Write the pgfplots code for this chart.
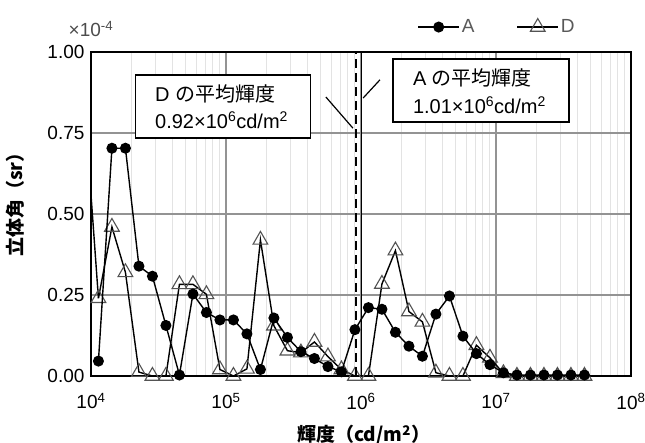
\documentclass[border=0pt]{standalone}
\usepackage{pgfplots}
\usepackage{pgfplotstable}
\pgfplotsset{compat=1.18}
\usepackage{fontspec}
\setmainfont{Liberation Sans}
\newfontfamily\cjk{Noto Sans CJK JP}

\pgfplotstableread{
x A D
1.135e4 0.046 0.240
1.429e4 0.703 0.460
1.799e4 0.703 0.320
2.265e4 0.339 0.012
2.851e4 0.308 0.000
3.589e4 0.156 0.000
4.519e4 0.003 0.283
5.689e4 0.253 0.283
7.161e4 0.196 0.252
9.016e4 0.173 0.020
1.135e5 0.173 0.000
1.429e5 0.130 0.022
1.799e5 0.020 0.420
2.265e5 0.179 0.155
2.851e5 0.119 0.078
3.589e5 0.075 0.072
4.519e5 0.054 0.105
5.689e5 0.029 0.060
7.161e5 0.013 0.020
9.016e5 0.143 0.000
1.135e6 0.211 0.000
1.429e6 0.206 0.284
1.799e6 0.135 0.387
2.265e6 0.092 0.199
2.851e6 0.061 0.167
3.589e6 0.191 0.010
4.519e6 0.247 0.000
5.689e6 0.123 0.000
7.161e6 0.069 0.095
9.016e6 0.035 0.056
1.135e7 0.010 0.008
1.429e7 0.003 0.000
1.799e7 0.003 0.000
2.265e7 0.003 0.000
2.851e7 0.003 0.000
3.589e7 0.003 0.000
4.519e7 0.003 0.000
}\data

\begin{document}
\fontsize{19}{23}\selectfont
\begin{tikzpicture}
\begin{axis}[name=ax,
  scale only axis, width=540pt, height=324pt,
  xmode=log, xmin=1e4, xmax=1e8, ymin=0, ymax=1,
  xtick={1e4,1e5,1e6,1e7,1e8},
  xticklabels={10\textsuperscript{4},10\textsuperscript{5},10\textsuperscript{6},10\textsuperscript{7},10\textsuperscript{8}},
  minor xtick={2e4,3e4,4e4,5e4,6e4,7e4,8e4,9e4,2e5,3e5,4e5,5e5,6e5,7e5,8e5,9e5,2e6,3e6,4e6,5e6,6e6,7e6,8e6,9e6,2e7,3e7,4e7,5e7,6e7,7e7,8e7,9e7},
  ytick={0,0.25,0.5,0.75,1},
  yticklabel style={/pgf/number format/.cd,fixed,fixed zerofill,precision=2,assume math mode=true},
  xticklabel style={yshift=-11pt},
  grid=both,
  major grid style={gray!85, line width=1.1pt},
  minor grid style={gray!22, line width=0.9pt},
  tick style={draw=none},
  axis line style={line width=2.4pt},
  clip mode=individual,
  xlabel={\cjk\bfseries 輝度（cd/m\textsuperscript{2}）},
  ylabel={\cjk\bfseries 立体角（sr）},
  xlabel style={at={(axis description cs:0.505,-0.182)}, anchor=center},
  ylabel style={at={(axis description cs:-0.141,0.543)}, anchor=center},
  legend columns=2,
  reverse legend,
  legend style={at={(axis description cs:0.752,1.077)}, anchor=center, draw=none, fill=none,
    font=\color{gray!70!black},
    /tikz/every even column/.append style={column sep=40pt}},
  legend image code/.code={\draw[mark repeat=2,mark phase=2,#1] plot coordinates {(0pt,0pt) (20.5pt,0pt) (41pt,0pt)};},
]
% D leading segment (from outside the axis)
\addplot[forget plot, black, line width=1.4pt] coordinates {(9.016e3,0.82) (1.135e4,0.240)};
\addplot[black, line width=1.4pt, mark=triangle, mark size=8.5pt,
  mark options={draw=gray!65!black, fill=white, line width=1.1pt}] table[x=x,y=D] {\data};
\addlegendentry{D}
\addplot[black, line width=1.4pt, mark=*, mark size=4.8pt, mark options={fill=black}] table[x=x,y=A] {\data};
\addlegendentry{A}
% mean luminance lines
\addplot[forget plot, black, line width=2.2pt, dash pattern=on 9pt off 5pt] coordinates {(0.92e6,0) (0.92e6,1)};
\addplot[forget plot, black, line width=1.6pt] coordinates {(1.01e6,0) (1.01e6,1)};
% annotation boxes
\draw[line width=1.3pt, fill=white] (rel axis cs:0.083,0.735) rectangle (rel axis cs:0.407,0.929);
\node[anchor=west, inner sep=0pt, font=\fontsize{20}{24}\selectfont] at (rel axis cs:0.1185,0.870) {D {\cjk の平均輝度}};
\node[anchor=west, inner sep=0pt, font=\fontsize{20}{24}\selectfont] at (rel axis cs:0.1185,0.790) {0.92×10\textsuperscript{6}cd/m\textsuperscript{2}};
\draw[line width=1.2pt] (rel axis cs:0.435,0.861) -- (rel axis cs:0.485,0.765);
\draw[line width=1.3pt, fill=white] (rel axis cs:0.559,0.784) rectangle (rel axis cs:0.885,0.978);
\node[anchor=west, inner sep=0pt, font=\fontsize{20}{24}\selectfont] at (rel axis cs:0.596,0.920) {A {\cjk の平均輝度}};
\node[anchor=west, inner sep=0pt, font=\fontsize{20}{24}\selectfont] at (rel axis cs:0.596,0.836) {1.01×10\textsuperscript{6}cd/m\textsuperscript{2}};
\draw[line width=1.2pt] (rel axis cs:0.535,0.914) -- (rel axis cs:0.504,0.858);
\end{axis}
\node[anchor=center, text=gray!60!black] at ([yshift=23pt]ax.north west) {×10\textsuperscript{-4}};
\pgfresetboundingbox
\path ([xshift=-91pt,yshift=-67pt]ax.south west) rectangle ([xshift=14pt,yshift=52pt]ax.north east);
\end{tikzpicture}
\end{document}
